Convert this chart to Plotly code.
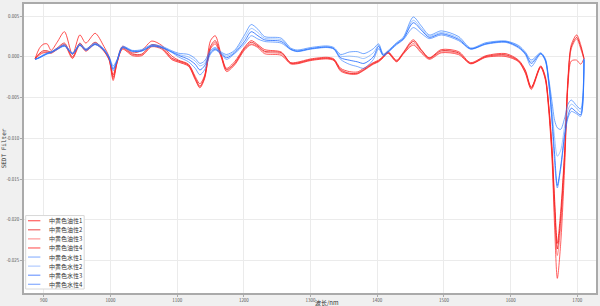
import plotly.graph_objects as go

# wavelength (nm)
wavelength = [887, 893, 899, 905, 911, 920, 931, 943, 954, 963, 977, 990, 998, 1004, 1010, 1018,
              1033, 1047, 1062, 1077, 1092, 1102, 1117, 1127, 1134, 1141, 1150, 1157, 1166, 1174,
              1186, 1201, 1211, 1221, 1231, 1256, 1270, 1280, 1300, 1325, 1335, 1345, 1358, 1370,
              1380, 1394, 1402, 1409, 1416, 1429, 1439, 1454, 1466, 1478, 1496, 1522, 1540, 1563,
              1593, 1612, 1622, 1631, 1645, 1652, 1657, 1662, 1666, 1670, 1675, 1681, 1686, 1691,
              1699, 1705, 1710]

# values in units of 1e-3
oil1 = [-0.2, 1.0, 1.55, 1.6, 0.8, 1.8, 3.1, 0.3, 2.7, 1.7, 2.9, 1.3, 0.0, -2.2, -0.4, 1.3,
        0.5, 0.8, 1.95, 1.4, 0.1, -0.4, -0.9, -2.4, -3.3, -2.3, 2.0, 2.6, 0.3, -1.4,
        -0.6, 1.2, 2.0, 1.5, 0.9, 0.6, -0.7, -0.65, -0.25, -0.05, -0.25, -1.4, -1.8, -1.85,
        -1.4, -0.7, -0.4, 0.1, 0.65, -0.4, 0.55, 2.1, 0.9, -0.1, 0.9, 0.65, -0.7, 0.15,
        0.4, -0.4, -1.6, -3.7, -1.1, -2.4, -5.8, -11.0, -17.5, -22.9, -19.0, -11.5, -2.5, 1.5,
        2.7, 1.5, -0.2]
oil2 = [-0.2, 0.4, 0.75, 0.75, 0.6, 1.1, 1.7, 0.0, 1.7, 0.9, 1.8, 0.8, -0.3, -2.5, -0.6, 1.1,
        0.35, 0.35, 1.5, 1.15, -0.15, -0.5, -1.0, -2.6, -3.6, -2.5, 1.3, 2.0, 0.15, -1.55,
        -0.8, 1.05, 1.8, 1.35, 0.7, 0.5, -0.75, -0.75, -0.35, -0.15, -0.35, -1.55, -2.0, -2.0,
        -1.55, -0.8, -0.5, 0.0, 0.55, -0.5, 0.45, 1.9, 0.8, -0.15, 0.75, 0.5, -0.8, 0.05,
        0.25, -0.5, -1.8, -3.8, -1.2, -2.6, -6.0, -11.5, -18.5, -23.6, -20.0, -12.0, -3.0, 1.2,
        2.4, 1.2, -0.2]
oil3 = [-0.2, 0.3, 0.6, 0.65, 0.5, 1.0, 1.55, -0.1, 1.55, 0.8, 1.65, 0.75, -0.35, -2.7, -0.65, 1.0,
        0.25, 0.25, 1.35, 1.05, -0.25, -0.6, -1.1, -2.7, -3.7, -2.6, 1.1, 1.8, 0.05, -1.65,
        -0.9, 0.95, 1.6, 1.25, 0.6, 0.35, -0.8, -0.8, -0.4, -0.2, -0.4, -1.65, -2.05, -2.05,
        -1.6, -0.85, -0.55, -0.05, 0.5, -0.55, 0.4, 1.65, 0.6, -0.2, 0.6, 0.4, -0.8, 0.0,
        0.15, -0.55, -1.9, -3.9, -1.2, -2.7, -6.2, -12.0, -19.5, -24.4, -21.0, -12.5, -3.0, 1.0,
        2.2, 1.0, -0.3]
oil4 = [-0.25, 0.2, 0.5, 0.55, 0.45, 0.9, 1.45, -0.2, 1.45, 0.7, 1.55, 0.7, -0.4, -2.9, -0.7, 0.95,
        0.15, 0.15, 1.25, 0.95, -0.35, -0.65, -1.15, -2.8, -3.8, -2.7, 1.0, 1.6, -0.05, -1.8,
        -1.0, 0.85, 1.5, 1.15, 0.4, 0.2, -0.85, -0.85, -0.45, -0.25, -0.45, -1.75, -2.1, -2.1,
        -1.65, -0.9, -0.6, -0.1, 0.45, -0.6, 0.35, 1.45, 0.5, -0.3, 0.5, 0.28, -0.85, -0.05,
        0.04, -0.6, -2.0, -4.0, -1.3, -2.8, -6.5, -12.5, -21.0, -27.2, -23.0, -13.5, -3.5, -0.5,
        -0.4, -0.9, -0.2]
water1 = [-0.3, -0.05, 0.25, 0.5, 0.65, 1.05, 1.5, 0.5, 1.6, 1.0, 1.7, 1.0, 0.0, -1.1, -0.3, 1.3,
          0.8, 0.9, 1.5, 1.3, 0.75, 0.45, 0.3, -0.2, -0.8, -0.5, 0.8, 1.15, 0.6, 0.3,
          0.8, 2.7, 3.98, 3.4, 2.5, 2.3, 1.1, 0.85, 1.15, 1.35, 1.15, 0.3, 0.6, 0.65,
          0.4, 1.0, 1.6, 0.35, 0.75, 1.75, 2.4, 4.9, 3.8, 2.7, 3.2, 2.5, 1.1, 1.75,
          1.95, 1.4, 0.6, -0.37, 0.5, -0.2, -2.6, -5.5, -7.8, -8.7, -8.9, -7.5, -5.8, -5.3,
          -6.0, -6.4, -0.2]
water2 = [-0.3, -0.1, 0.2, 0.45, 0.6, 1.0, 1.4, 0.45, 1.5, 0.9, 1.6, 0.9, -0.1, -1.35, -0.4, 1.2,
          0.75, 0.8, 1.4, 1.2, 0.65, 0.3, 0.0, -0.5, -1.1, -0.8, 0.65, 1.05, 0.5, 0.1,
          0.65, 2.3, 3.5, 3.0, 2.3, 2.1, 1.0, 0.75, 1.05, 1.26, 1.05, 0.1, 0.1, 0.0,
          -0.2, 0.5, 1.45, 0.25, 0.65, 1.66, 2.3, 4.5, 3.5, 2.55, 3.0, 2.3, 1.0, 1.66,
          1.9, 1.3, 0.5, -0.6, 0.45, -0.3, -2.8, -6.5, -10.0, -12.2, -11.5, -8.5, -6.5, -5.8,
          -6.3, -6.8, -0.3]
water3 = [-0.3, -0.1, 0.15, 0.4, 0.55, 0.95, 1.35, 0.4, 1.45, 0.85, 1.55, 0.85, -0.15, -1.5, -0.45, 1.15,
          0.7, 0.75, 1.35, 1.15, 0.6, 0.2, -0.3, -0.9, -1.6, -1.1, 0.5, 0.95, 0.4, -0.1,
          0.5, 1.9, 3.1, 2.6, 2.1, 1.9, 0.95, 0.7, 1.0, 1.2, 1.0, -0.1, -0.4, -0.6,
          -0.8, 0.0, 1.3, 0.2, 0.6, 1.6, 2.2, 4.2, 3.3, 2.4, 2.85, 2.15, 1.0, 1.6,
          1.85, 1.2, 0.4, -0.8, 0.4, -0.4, -3.0, -7.5, -12.0, -15.8, -13.5, -9.5, -7.2, -6.3,
          -6.8, -7.1, -0.3]
water4 = [-0.3, -0.15, 0.1, 0.35, 0.5, 0.9, 1.3, 0.35, 1.4, 0.8, 1.5, 0.8, -0.2, -1.7, -0.5, 1.1,
          0.65, 0.7, 1.3, 1.1, 0.55, 0.0, -0.6, -1.4, -2.2, -1.6, 0.35, 0.85, 0.3, -0.3,
          0.4, 1.6, 2.6, 2.2, 1.9, 1.7, 0.9, 0.65, 0.95, 1.15, 0.95, -0.3, -0.9, -1.18,
          -1.4, -0.33, 1.0, 0.15, 0.55, 1.5, 2.1, 3.6, 2.9, 2.25, 2.7, 2.0, 0.95, 1.55,
          1.78, 1.1, 0.3, -1.18, 0.35, -0.5, -3.2, -8.0, -13.0, -16.1, -13.8, -9.8, -7.5, -6.7,
          -7.0, -7.3, -0.4]

series_names = ["中黄色油性1", "中黄色油性2", "中黄色油性3", "中黄色油性4",
                "中黄色水性1", "中黄色水性2", "中黄色水性3", "中黄色水性4"]
series_values = [oil1, oil2, oil3, oil4, water1, water2, water3, water4]
series_colors = ["rgba(255,20,20,0.75)", "rgba(225,0,0,0.75)", "rgba(255,70,70,0.6)", "rgba(255,30,30,0.7)",
                 "rgba(40,120,255,0.65)", "rgba(80,150,255,0.55)", "rgba(10,90,255,0.75)", "rgba(50,125,255,0.65)"]
legend_colors = ["#ff6a6a", "#f07070", "#ffa0a0", "#ff7070", "#9bbcff", "#b8cfff", "#7fa4ff", "#90b2ff"]

x_ticks = [900, 1000, 1100, 1200, 1300, 1400, 1500, 1600, 1700]
y_ticks = [0.005, 0.0, -0.005, -0.010, -0.015, -0.020, -0.025]

W, H = 600, 306
ML, MR, MT, MB = 21, 2, 2, 13
PW, PH = W - ML - MR, H - MT - MB


def px_x(px):
    return (px - ML) / PW


def px_y(py):
    return (H - MB - py) / PH


fig = go.Figure()
for name, vals, col in zip(series_names, series_values, series_colors):
    fig.add_trace(go.Scatter(
        x=wavelength, y=[v / 1000 for v in vals], mode="lines", name=name,
        line=dict(color=col, width=1, shape="spline", smoothing=0.8),
        showlegend=False,
    ))

cjk = "Noto Sans CJK SC"
shapes = [dict(type="rect", xref="paper", yref="paper",
               x0=px_x(22.7), x1=px_x(81.7), y0=px_y(289), y1=px_y(215),
               fillcolor="white", line=dict(color="#d8d8d8", width=1), layer="above")]
annotations = []
for i, (name, col) in enumerate(zip(series_names, legend_colors)):
    yy = 220.2 + i * 9.15
    shapes.append(dict(type="line", xref="paper", yref="paper",
                       x0=px_x(25), x1=px_x(37.5), y0=px_y(yy), y1=px_y(yy),
                       line=dict(color=col, width=1.3), layer="above"))
    annotations.append(dict(xref="paper", yref="paper", x=px_x(44), y=px_y(yy),
                            xanchor="left", yanchor="middle", text=name, showarrow=False,
                            font=dict(size=6, family=cjk, color="#333")))
annotations.append(dict(xref="paper", yref="paper", x=px_x(327), y=px_y(302.3),
                        xanchor="center", yanchor="middle", text="波长/nm", showarrow=False,
                        borderpad=0, font=dict(size=6, family=cjk, color="#333")))

fig.update_layout(
    width=W, height=H,
    margin=dict(l=ML, r=MR, t=MT, b=MB),
    paper_bgcolor="#f0f0f0", plot_bgcolor="white",
    font=dict(family=cjk, color="#333", size=6),
    showlegend=False,
    shapes=shapes, annotations=annotations,
)
fig.update_xaxes(
    range=[870.3, 1728], tickvals=x_ticks, ticktext=[str(t) for t in x_ticks],
    showgrid=True, gridcolor="#ebebeb", gridwidth=1,
    showline=True, linecolor="#aaaaaa", linewidth=1.5, mirror=True,
    ticks="outside", ticklen=2, tickcolor="#aaaaaa",
    tickfont=dict(size=4.5, color="#555"), zeroline=False,
)
fig.update_yaxes(
    range=[-0.029, 0.0065], tickvals=y_ticks, ticktext=[f"{t:.3f}" for t in y_ticks],
    showgrid=True, gridcolor="#ebebeb", gridwidth=1,
    showline=True, linecolor="#aaaaaa", linewidth=1.5, mirror=True,
    ticks="outside", ticklen=2, tickcolor="#aaaaaa",
    tickfont=dict(size=4.5, color="#555"), zeroline=False,
    title=dict(text="SEDT Filter", font=dict(size=6, color="#333", family="DejaVu Sans Mono"), standoff=0),
)
fig.write_html("out.html")
